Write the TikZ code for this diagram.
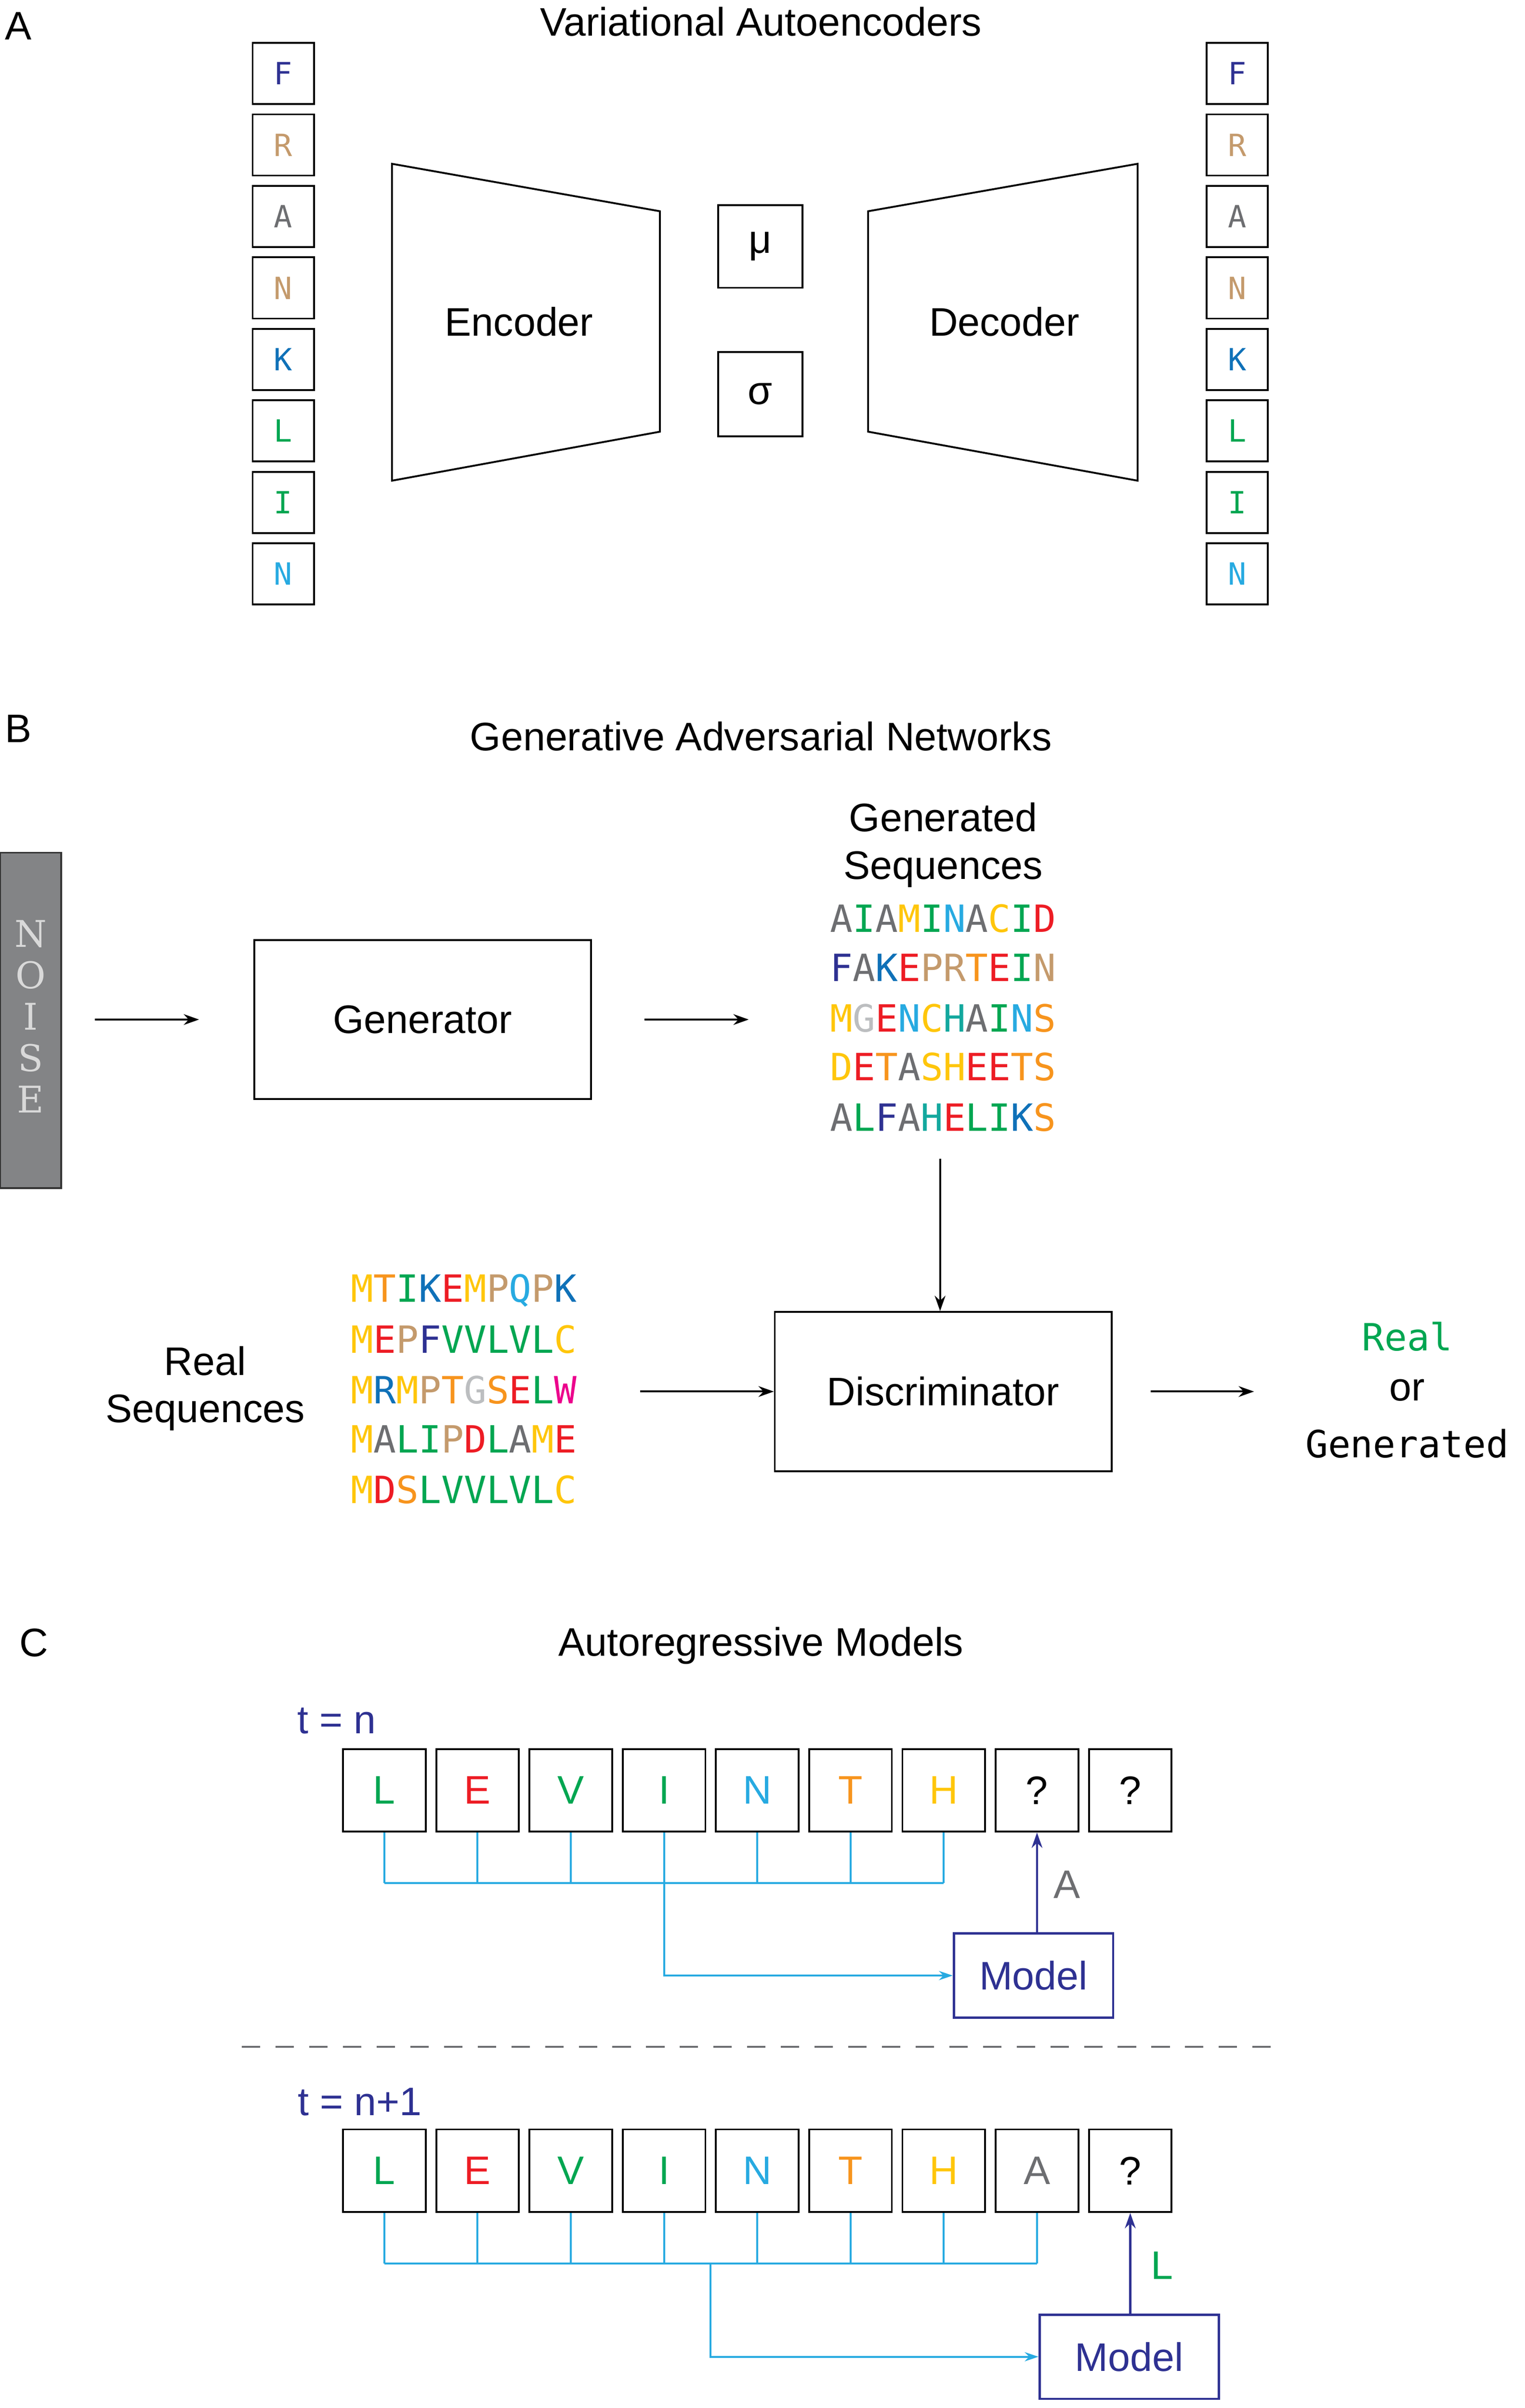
\documentclass[tikz,border=0pt]{standalone}
\usepackage{fontspec}
\setmainfont{Liberation Sans}
\newfontfamily\mono{DejaVu Sans Mono}
\newfontfamily\serifn{DejaVu Serif}
\usetikzlibrary{arrows.meta}
\definecolor{cN}{HTML}{2E3192}
\definecolor{cT}{HTML}{C49A6C}
\definecolor{cG}{HTML}{6D6E71}
\definecolor{cB}{HTML}{0F71B8}
\definecolor{cL}{HTML}{00A651}
\definecolor{cC}{HTML}{27AAE1}
\definecolor{cY}{HTML}{FFC60B}
\definecolor{cR}{HTML}{ED1C24}
\definecolor{cO}{HTML}{F7941D}
\definecolor{cH}{HTML}{13A89E}
\definecolor{cS}{HTML}{BCBEC0}
\definecolor{cM}{HTML}{EC008C}
\newcommand\q[2]{\textcolor{#1}{#2}}
\begin{document}
\begin{tikzpicture}[x=1pt,y=-1pt,
  lbox/.style={draw,line width=1.2pt,minimum width=40pt,minimum height=40pt,inner sep=0pt,font=\mono\fontsize{20}{20}\selectfont},
  bigbox/.style={draw,line width=1.2pt,minimum width=220pt,minimum height=104pt,font=\fontsize{26}{30}\selectfont},
  sbox/.style={draw,line width=1.2pt,minimum width=54pt,minimum height=54pt,inner sep=0pt,font=\fontsize{26}{26}\selectfont},
  txt/.style={font=\fontsize{26}{31}\selectfont,align=center},
  seq/.style={font=\mono\fontsize{24.5}{24.5}\selectfont,inner sep=0pt},
  arr/.style={-{Stealth[length=10pt,width=7pt]},line width=1.3pt},
  carr/.style={cC,line width=1.3pt},
  marr/.style={cN,line width=1.5pt,-{Stealth[length=10pt,width=7pt]}},
  model/.style={draw=cN,line width=1.5pt,text=cN,font=\fontsize{26}{26}\selectfont}]
\useasboundingbox (0,0) rectangle (996,1573);
% ---------- A
\node[txt] (la) at (12,17) {A};
\node[txt] (ta) at (497,14) {Variational Autoencoders};
\foreach \c/\l [count=\i] in {cN/F,cT/R,cG/A,cT/N,cB/K,cL/L,cL/I,cC/N}{
  \node[lbox,text=\c] (l\i) at (185,{48+(\i-1)*46.7}) {\l};
  \node[lbox,text=\c] (r\i) at (808,{48+(\i-1)*46.7}) {\l};
}
\draw[line width=1.2pt] (256,107) -- (431,138) -- (431,282) -- (256,314) -- cycle;
\node[txt] (enc) at (339,210) {Encoder};
\draw[line width=1.2pt] (567,138) -- (743,107) -- (743,314) -- (567,282) -- cycle;
\node[txt] (dec) at (656,210) {Decoder};
\node[draw,line width=1.2pt,minimum width=55pt,minimum height=54pt,font=\fontsize{26}{26}\selectfont] (mu) at (496.5,161) {μ};
\node[draw,line width=1.2pt,minimum width=55pt,minimum height=55pt,font=\fontsize{26}{26}\selectfont] (sig) at (496.5,257.5) {σ};
% ---------- B
\node[txt] (lb) at (12,476) {B};
\node[txt] (tb) at (497,481) {Generative Adversarial Networks};
\node[draw=black!80,fill=cG!85,line width=1.2pt,minimum width=40pt,minimum height=219pt] (noise) at (20,666.5) {};
\foreach \l [count=\i] in {N,O,I,S,E}
  \node[font=\serifn\fontsize{24}{24}\selectfont,text=white!85!black] (n\i) at (20,{610+(\i-1)*27}) {\l};
\node[bigbox] (gen) at (276,666) {Generator};
\coordinate (a1s) at (62,666); \coordinate (a1e) at (130,666);
\draw[arr] (a1s) -- (a1e);
\coordinate (a2s) at (421,666); \coordinate (a2e) at (489,666);
\draw[arr] (a2s) -- (a2e);
\node[txt] (gs) at (616,552) {Generated\\Sequences};
\node[seq] (g1) at (616,600) {\q{cG}{A}\q{cL}{I}\q{cG}{A}\q{cY}{M}\q{cL}{I}\q{cC}{N}\q{cG}{A}\q{cY}{C}\q{cL}{I}\q{cR}{D}};
\node[seq] (g2) at (616,632) {\q{cN}{F}\q{cG}{A}\q{cB}{K}\q{cR}{E}\q{cT}{P}\q{cT}{R}\q{cO}{T}\q{cR}{E}\q{cL}{I}\q{cT}{N}};
\node[seq] (g3) at (616,665) {\q{cY}{M}\q{cS}{G}\q{cR}{E}\q{cC}{N}\q{cY}{C}\q{cH}{H}\q{cG}{A}\q{cL}{I}\q{cC}{N}\q{cO}{S}};
\node[seq] (g4) at (616,697) {\q{cY}{D}\q{cR}{E}\q{cO}{T}\q{cG}{A}\q{cY}{S}\q{cY}{H}\q{cR}{E}\q{cR}{E}\q{cO}{T}\q{cO}{S}};
\node[seq] (g5) at (616,730) {\q{cG}{A}\q{cL}{L}\q{cN}{F}\q{cG}{A}\q{cH}{H}\q{cR}{E}\q{cL}{L}\q{cL}{I}\q{cB}{K}\q{cO}{S}};
\node[bigbox] (disc) at (616,909) {Discriminator};
\coordinate (a3s) at (614,757);
\draw[arr] (a3s) -- (disc.north -| a3s);
\node[txt] (rs) at (134,907) {Real\\Sequences};
\node[seq] (r1) at (303,843) {\q{cY}{M}\q{cO}{T}\q{cL}{I}\q{cB}{K}\q{cR}{E}\q{cY}{M}\q{cT}{P}\q{cC}{Q}\q{cT}{P}\q{cB}{K}};
\node[seq] (r2) at (303,875) {\q{cY}{M}\q{cR}{E}\q{cT}{P}\q{cN}{F}\q{cL}{V}\q{cL}{V}\q{cL}{L}\q{cL}{V}\q{cL}{L}\q{cY}{C}};
\node[seq] (r3) at (303,908) {\q{cY}{M}\q{cB}{R}\q{cY}{M}\q{cT}{P}\q{cO}{T}\q{cS}{G}\q{cO}{S}\q{cR}{E}\q{cL}{L}\q{cM}{W}};
\node[seq] (r4) at (303,940) {\q{cY}{M}\q{cG}{A}\q{cL}{L}\q{cL}{I}\q{cT}{P}\q{cR}{D}\q{cL}{L}\q{cG}{A}\q{cY}{M}\q{cR}{E}};
\node[seq] (r5) at (303,973) {\q{cY}{M}\q{cR}{D}\q{cO}{S}\q{cL}{L}\q{cL}{V}\q{cL}{V}\q{cL}{L}\q{cL}{V}\q{cL}{L}\q{cY}{C}};
\coordinate (a4s) at (418,909);
\draw[arr] (a4s) -- (disc.west);
\coordinate (a5e) at (819,909);
\draw[arr] ([xshift=25pt]disc.east) -- (a5e);
\node[seq,text=cL] (real) at (919,873) {Real};
\node[txt,inner sep=0pt] (or) at (919,908) {or};
\node[seq] (gnd) at (919,943) {Generated};
% ---------- C
\node[txt] (lc) at (22,1073) {C};
\node[txt] (tc) at (497,1075) {Autoregressive Models};
\node[txt,text=cN] (t1) at (220,1124) {t = n};
\foreach \c/\l [count=\i] in {cL/L,cR/E,cL/V,cL/I,cC/N,cO/T,cY/H,black/?,black/?}
  \node[sbox,text=\c] (a\i) at ({251+(\i-1)*60.9},1169.5) {\l};
\foreach \i in {1,...,7} \draw[carr] (a\i.south) -- ++(0,33);
\draw[carr] ([yshift=-33pt]a1.south) -- ([yshift=-33pt]a7.south);
\node[model,minimum width=104pt,minimum height=55pt] (m1) at (675,1290.5) {Model};
\draw[carr,-{Stealth[length=9pt,width=6pt]}] ([yshift=-33pt]a4.south) |- (m1.west);
\draw[marr] (m1.north -| a8) -- (a8.south);
\node[txt,text=cG] (lA) at (697,1231) {A};
\coordinate (d1) at (158,1337); \coordinate (d2) at (836,1337);
\draw[cG,line width=1.2pt,dash pattern=on 12pt off 10pt] (d1) -- (d2);
\node[txt,text=cN] (t2) at (235,1373) {t = n+1};
\foreach \c/\l [count=\i] in {cL/L,cR/E,cL/V,cL/I,cC/N,cO/T,cY/H,cG/A,black/?}
  \node[sbox,text=\c] (b\i) at ({251+(\i-1)*60.9},1418) {\l};
\foreach \i in {1,...,8} \draw[carr] (b\i.south) -- ++(0,33);
\draw[carr] ([yshift=-33pt]b1.south) -- ([yshift=-33pt]b8.south);
\coordinate (bj) at (464,1478);
\node[model,minimum width=117pt,minimum height=55pt] (m2) at (737.5,1539.5) {Model};
\draw[carr,-{Stealth[length=9pt,width=6pt]}] (bj) |- (m2.west);
\draw[marr] (m2.north -| b9) -- (b9.south);
\node[txt,text=cL] (lL) at (759,1480) {L};
\end{tikzpicture}
\end{document}
